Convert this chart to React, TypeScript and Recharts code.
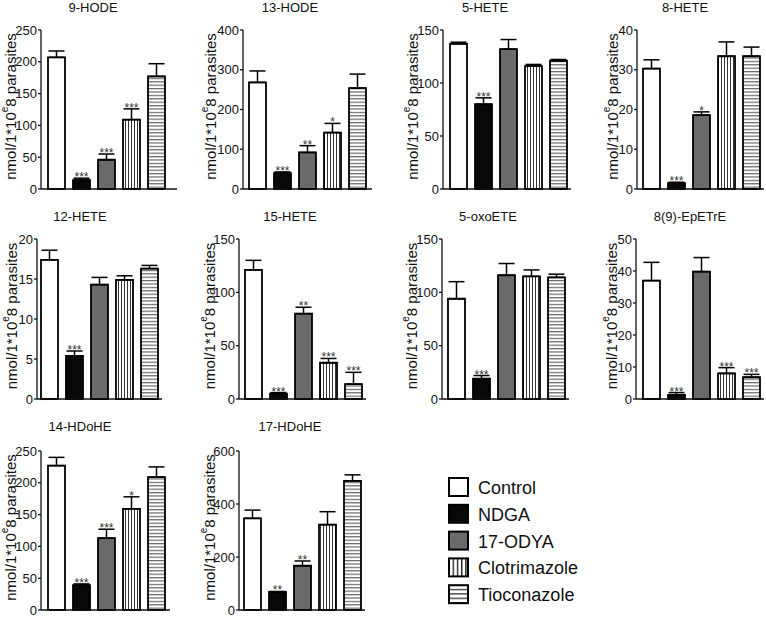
import React from "react";
import { BarChart, Bar, XAxis, YAxis, Cell, ErrorBar, LabelList } from "recharts";

// treatment groups, same order in every panel
const groups = ["Control", "NDGA", "17-ODYA", "Clotrimazole", "Tioconazole"];

// mean values, upper SEM and significance marks per metabolite
const hode9 = [207, 14, 46, 109, 177];
const hode9Err = [10, 3, 9, 17, 20];
const hode9Sig = ["", "***", "***", "***", ""];

const hode13 = [268, 40, 92, 142, 254];
const hode13Err = [29, 3, 17, 23, 35];
const hode13Sig = ["", "***", "**", "*", ""];

const hete5 = [137, 80, 132, 116, 121];
const hete5Err = [1.5, 6, 9, 1.5, 1.2];
const hete5Sig = ["", "***", "", "", ""];

const hete8 = [30.3, 1.5, 18.6, 33.4, 33.4];
const hete8Err = [2.2, 0.2, 0.8, 3.6, 2.3];
const hete8Sig = ["", "***", "*", "", ""];

const hete12 = [17.4, 5.4, 14.3, 14.9, 16.3];
const hete12Err = [1.2, 0.6, 0.9, 0.5, 0.4];
const hete12Sig = ["", "***", "", "", ""];

const hete15 = [121, 5, 80, 34, 14];
const hete15Err = [9, 1, 6, 4, 11];
const hete15Sig = ["", "***", "**", "***", "***"];

const oxoete5 = [94, 19, 116, 115, 114];
const oxoete5Err = [16, 3, 11, 6, 3];
const oxoete5Sig = ["", "***", "", "", ""];

const epetre89 = [37, 1.3, 39.8, 8, 6.8];
const epetre89Err = [5.7, 0.7, 4.4, 1.8, 0.9];
const epetre89Sig = ["", "***", "", "***", "***"];

const hdohe14 = [227, 39, 113, 159, 209];
const hdohe14Err = [13, 2, 14, 19, 16];
const hdohe14Sig = ["", "***", "***", "*", ""];

const hdohe17 = [346, 68, 167, 322, 487];
const hdohe17Err = [31, 2, 18, 49, 23];
const hdohe17Sig = ["", "**", "**", "", ""];

// y tick labels
const ticks250 = [0, 50, 100, 150, 200, 250];
const ticks400 = [0, 100, 200, 300, 400];
const ticks150 = [0, 50, 100, 150];
const ticks40 = [0, 10, 20, 30, 40];
const ticks20 = [0, 5, 10, 15, 20];
const ticks50 = [0, 10, 20, 30, 40, 50];
const ticks600 = [0, 200, 400, 600];

const FONT = "'Liberation Sans', Arial, Helvetica, sans-serif";
const YW = 45; // y axis area width
const BAND = 125; // 5 categories x 25px

type Panel = {
  id: string;
  title: string;
  vals: number[];
  errs: number[];
  sig: string[];
  ticks: number[];
  ax: number; // y-axis line x on page
  pt: number; // plot top
  pb: number; // plot bottom
  pl: number;
  pr: number;
  tx: number; // title centre
  ty: number;
  lx: number; // y label centre
};

const panels: Panel[] = [
  { id: "p1", title: "9-HODE", vals: hode9, errs: hode9Err, sig: hode9Sig, ticks: ticks250, ax: 41, pt: 30, pb: 189, pl: 3, pr: 8, tx: 93, ty: 8, lx: 12 },
  { id: "p2", title: "13-HODE", vals: hode13, errs: hode13Err, sig: hode13Sig, ticks: ticks400, ax: 243, pt: 30, pb: 189, pl: 2, pr: 2, tx: 290, ty: 8, lx: 212 },
  { id: "p3", title: "5-HETE", vals: hete5, errs: hete5Err, sig: hete5Sig, ticks: ticks150, ax: 443, pt: 30, pb: 189, pl: 3, pr: 0, tx: 485, ty: 8, lx: 414 },
  { id: "p4", title: "8-HETE", vals: hete8, errs: hete8Err, sig: hete8Sig, ticks: ticks40, ax: 637, pt: 30, pb: 189, pl: 2, pr: 0, tx: 685, ty: 8, lx: 614 },
  { id: "p5", title: "12-HETE", vals: hete12, errs: hete12Err, sig: hete12Sig, ticks: ticks20, ax: 37, pt: 239, pb: 399, pl: 0, pr: 0, tx: 80, ty: 217, lx: 13 },
  { id: "p6", title: "15-HETE", vals: hete15, errs: hete15Err, sig: hete15Sig, ticks: ticks150, ax: 239, pt: 239, pb: 399, pl: 2, pr: 0, tx: 290, ty: 217, lx: 211 },
  { id: "p7", title: "5-oxoETE", vals: oxoete5, errs: oxoete5Err, sig: oxoete5Sig, ticks: ticks150, ax: 442, pt: 239, pb: 399, pl: 2, pr: 0, tx: 488, ty: 217, lx: 413 },
  { id: "p8", title: "8(9)-EpETrE", vals: epetre89, errs: epetre89Err, sig: epetre89Sig, ticks: ticks50, ax: 636, pt: 239, pb: 399, pl: 3, pr: 0, tx: 690, ty: 217, lx: 613 },
  { id: "p9", title: "14-HDoHE", vals: hdohe14, errs: hdohe14Err, sig: hdohe14Sig, ticks: ticks250, ax: 41, pt: 451, pb: 610, pl: 3, pr: 1, tx: 80, ty: 427, lx: 12 },
  { id: "p10", title: "17-HDoHE", vals: hdohe17, errs: hdohe17Err, sig: hdohe17Sig, ticks: ticks600, ax: 239, pt: 451, pb: 610, pl: 1, pr: 0, tx: 290, ty: 427, lx: 211 },
];

function fillFor(i: number, id: string) {
  if (i === 0) return "#ffffff";
  if (i === 1) return "#080808";
  if (i === 2) return "#6a6a6a";
  if (i === 3) return `url(#vs-${id})`;
  return `url(#hs-${id})`;
}

function Stripes({ id, step }: { id: string; step: number }) {
  return (
    <defs>
      <pattern id={`vs-${id}`} patternUnits="userSpaceOnUse" width={step} height={step}>
        <rect width={step} height={step} fill="#fff" />
        <rect x={0} y={0} width={1} height={step} fill="#333" />
      </pattern>
      <pattern id={`hs-${id}`} patternUnits="userSpaceOnUse" width={step} height={step + 0.4}>
        <rect width={step} height={step + 0.4} fill="#fff" />
        <rect x={0} y={0} width={step} height={1.2} fill="#666" />
      </pattern>
    </defs>
  );
}

function YLabel({ viewBox, gap }: any) {
  if (!viewBox) return null;
  // axis line sits at the right edge of the y-axis box
  const cx = viewBox.x + viewBox.width - gap - 2;
  const cy = viewBox.y + viewBox.height / 2 - 3;
  return (
    <text
      x={cx}
      y={cy}
      transform={`rotate(-90 ${cx} ${cy})`}
      textAnchor="middle"
      dominantBaseline="central"
      fontSize={15}
      fontFamily={FONT}
      fill="#111"
    >
      nmol/1*10
      <tspan fontSize={10} dy={-6}>e</tspan>
      <tspan fontSize={15} dy={6}>8 parasites</tspan>
    </text>
  );
}

function PanelChart({ p }: { p: Panel }) {
  const data = groups.map((name, i) => ({ name, v: p.vals[i], e: [0, p.errs[i]] }));
  const h = 10 + (p.pb - p.pt) + 2 + 8;
  const w = YW + p.pl + BAND + p.pr + 4;
  const top = p.ticks[p.ticks.length - 1];

  return (
    <>
      <div
        style={{
          position: "absolute",
          left: p.tx,
          top: p.ty - 7,
          transform: "translateX(-50%)",
          fontFamily: FONT,
          fontSize: 13,
          lineHeight: "13px",
          whiteSpace: "nowrap",
          color: "#111",
        }}
      >
        {p.title}
      </div>
      <div style={{ position: "absolute", left: p.ax - YW, top: p.pt - 10 }}>
        <BarChart width={w} height={h} data={data} margin={{ top: 10, right: 4, left: 0, bottom: 8 }}>
          <Stripes id={p.id} step={3} />
          <XAxis
            dataKey="name"
            tick={false}
            tickLine={false}
            height={2}
            padding={{ left: p.pl, right: p.pr }}
            axisLine={{ stroke: "#111", strokeWidth: 1.3 }}
          />
          <YAxis
            width={YW}
            domain={[0, top]}
            ticks={p.ticks}
            interval={0}
            tickSize={3}
            tickMargin={1}
            tick={{ fontSize: 13, fill: "#111", fontFamily: FONT }}
            axisLine={{ stroke: "#111", strokeWidth: 1.3 }}
            tickLine={{ stroke: "#111", strokeWidth: 1.3 }}
            label={{ content: (lp: any) => <YLabel viewBox={lp.viewBox} gap={p.ax - p.lx} /> }}
          />
          <Bar dataKey="v" barSize={17} stroke="#000" strokeWidth={1.8} isAnimationActive={false}>
            {data.map((d, i) => (
              <Cell key={d.name} fill={fillFor(i, p.id)} />
            ))}
            <ErrorBar dataKey="e" width={8} stroke="#000" strokeWidth={1.5} direction="y" isAnimationActive={false} />
            <LabelList
              dataKey="v"
              content={(lp: any) => {
                const { x, y, width, height, index } = lp;
                const s = p.sig[index];
                if (!s) return null;
                const v = p.vals[index];
                const errPx = v ? (p.errs[index] * Number(height)) / v : 0;
                return (
                  <text
                    x={Number(x) + Number(width) / 2}
                    y={Number(y) - errPx + 3}
                    textAnchor="middle"
                    fontSize={12}
                    fill="#333"
                    fontFamily={FONT}
                  >
                    {s}
                  </text>
                );
              }}
            />
          </Bar>
        </BarChart>
      </div>
    </>
  );
}

function GroupLegend() {
  return (
    <svg width={200} height={140} style={{ position: "absolute", left: 440, top: 470 }}>
      <defs>
        <pattern id="lg-vs" patternUnits="userSpaceOnUse" width={4.2} height={4}>
          <rect width={4.2} height={4} fill="#fff" />
          <rect x={0} width={1.4} height={4} fill="#222" />
        </pattern>
        <pattern id="lg-hs" patternUnits="userSpaceOnUse" width={4} height={4.4}>
          <rect width={4} height={4.4} fill="#fff" />
          <rect y={0} width={4} height={1.4} fill="#444" />
        </pattern>
      </defs>
      {groups.map((g, i) => {
        const y = 8 + i * 26.8;
        const fill = i === 3 ? "url(#lg-vs)" : i === 4 ? "url(#lg-hs)" : fillFor(i, "lg");
        return (
          <g key={g}>
            <rect x={9} y={y} width={19} height={18} fill={fill} stroke="#000" strokeWidth={2} />
            <text x={38} y={y + 16} fontSize={18} fontFamily={FONT} fill="#111">
              {g}
            </text>
          </g>
        );
      })}
    </svg>
  );
}

export default function App() {
  return (
    <div style={{ position: "absolute", left: 0, top: 0, width: 766, height: 618, background: "#fff" }}>
      {panels.map((p) => (
        <PanelChart key={p.id} p={p} />
      ))}
      <GroupLegend />
    </div>
  );
}
